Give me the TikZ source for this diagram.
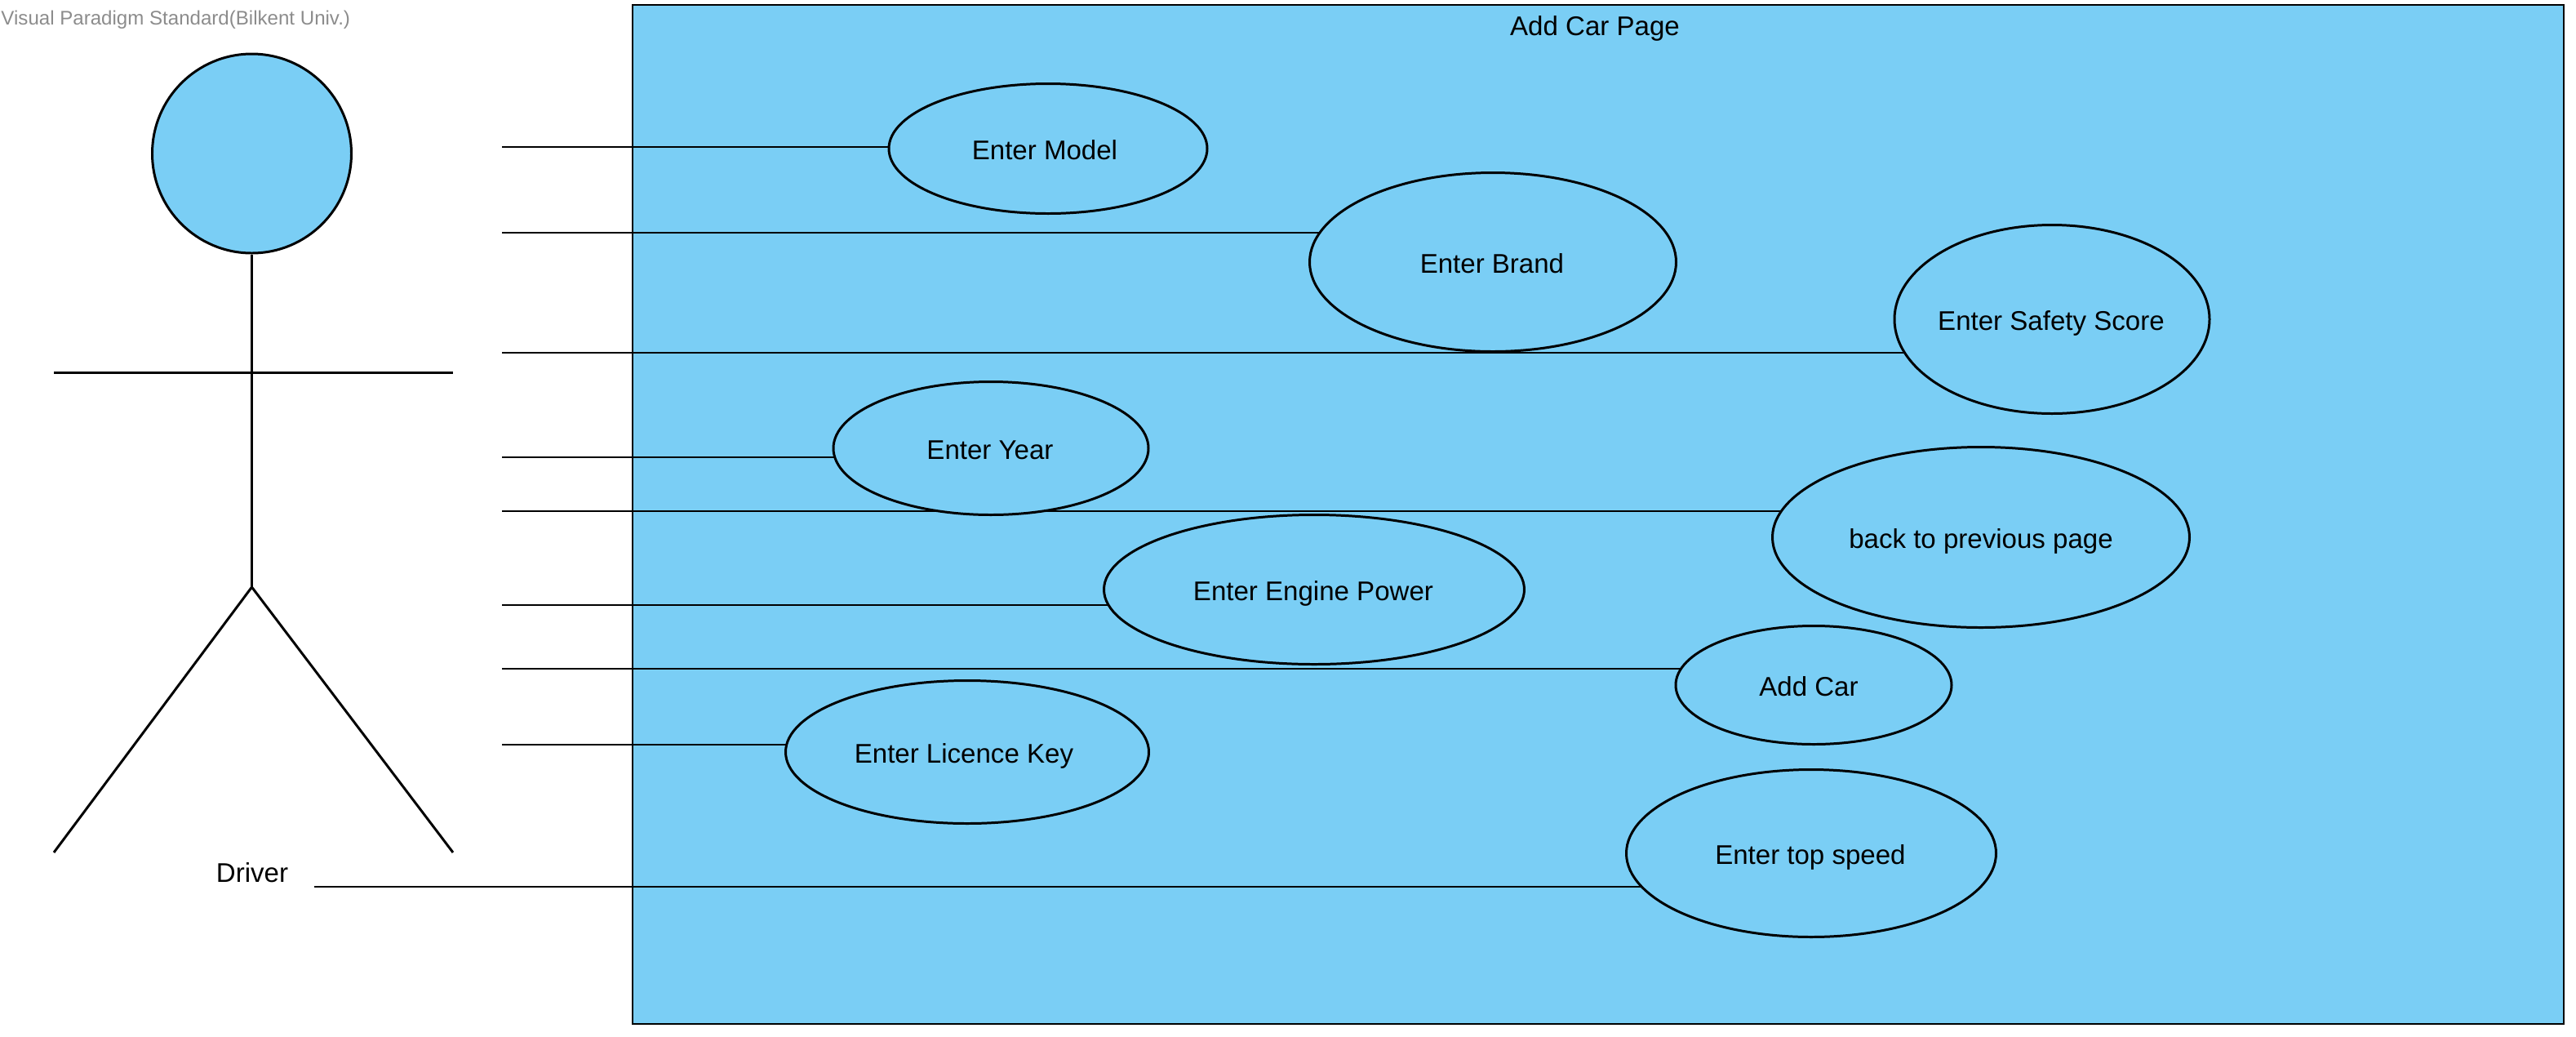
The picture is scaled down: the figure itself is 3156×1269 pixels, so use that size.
\documentclass[tikz,border=0pt]{standalone}
\usepackage{fontspec}
\setmainfont{Liberation Sans}
\usetikzlibrary{backgrounds,shapes.geometric}
\definecolor{vpblue}{HTML}{7ACEF5}
\tikzset{
  usecase/.style={ellipse,draw=black,fill=vpblue,line width=0.85pt,inner sep=0pt},
  label/.style={inner sep=0pt,text height=7.4pt,text depth=0pt,font=\fontsize{9.4pt}{11pt}\selectfont},
}
\begin{document}
\begin{tikzpicture}[x=0.01cm,y=-0.01cm,line width=0.85pt]
                     \useasboundingbox (0,0) rectangle (3156,1269);
                     \node[label,anchor=west,gray!90!white,text height=4.9pt,font=\fontsize{6.85pt}{8pt}\selectfont] (stamp) at (0,22) {Visual Paradigm Standard(Bilkent Univ.)};
                     \node[label] (title) at (1954,30) {Add Car Page};
                     % actor
                     \node[circle,draw,fill=vpblue,inner sep=0pt,minimum size=0.01cm*244] (head) at (308.5,188) {};
                     \coordinate (hip) at (308.5,719);
                     \coordinate (handl) at (66,456);
                     \coordinate (handr) at (555,456);
                     \coordinate (footl) at (66,1044);
                     \coordinate (footr) at (555,1044);
                     \draw (head.south) -- (hip);
                     \draw (handl) -- (handr);
                     \draw (footl) -- (hip) -- (footr);
                     \node[label] (driver) at (309,1067) {Driver};
                     % use cases, last but one value moves the text sideways
                     \foreach \n/\x/\y/\w/\h/\d/\t in {model/1284/182/390/159/-2.3/Enter Model,
                       brand/1829/321/449/219/-0.6/Enter Brand,
                       safety/2514/391/386/231/-0.6/Enter Safety Score,
                       year/1214/549/386/163/-0.6/Enter Year,
                       back/2427/658/511/221/0/back to previous page,
                       engine/1610/722/515/183/-0.6/Enter Engine Power,
                       addcar/2222/839/338/145/-3.4/Add Car,
                       licence/1185/921/445/175/-2.3/Enter Licence Key,
                       speed/2219/1045/453/205/-0.6/Enter top speed}{
                       \node[usecase,label,minimum width=0.01cm*\w,minimum height=0.01cm*\h] (\n) at (\x,\y) {\makebox[0pt]{\kern\d pt \t}};
                     }
                     \begin{pgfonlayer}{background}
                       \node[draw,fill=vpblue,inner sep=0pt,minimum width=0.01cm*2366,minimum height=0.01cm*1248] (page) at (1958,630) {};
                       \foreach \n/\x/\y in {model/615/180,brand/615/285,safety/615/432,year/615/560,
                         back/615/626,engine/615/741,addcar/615/819,licence/615/912,speed/385/1086}{
                         \coordinate (from\n) at (\x,\y);
                         \draw (from\n) -- (from\n -| \n.center);
                       }
                     \end{pgfonlayer}
                   \end{tikzpicture}
\end{document}
